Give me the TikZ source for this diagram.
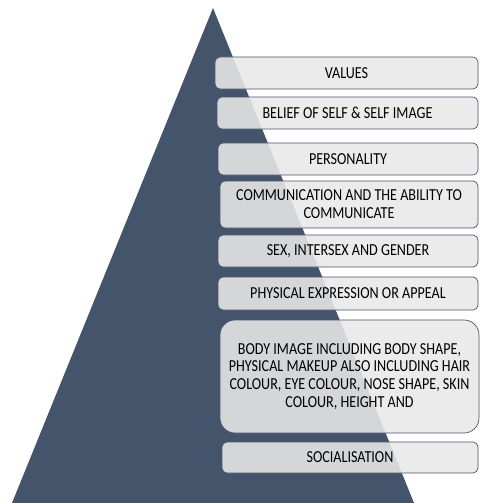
\documentclass[tikz,border=0pt]{standalone}
\usepackage{fontspec}
\setmainfont{Carlito}[FakeStretch=0.84]
\definecolor{slate}{RGB}{68,84,106}
\definecolor{boxgray}{RGB}{232,232,232}

\begin{document}
\begin{tikzpicture}
  [x=1pt, y=-1pt,
   layer box/.style={draw=slate, line width=0.7pt, fill=boxgray,
     fill opacity=0.88, text opacity=1, rounded corners=5pt,
     align=center, inner sep=0pt, font=\fontsize{16.8}{17.8}\selectfont,
     text=black},
  ]

  \useasboundingbox (0,0) rectangle (479,503);

  % pyramid
  \fill[slate] (213,8) -- (414,503) -- (12,503) -- cycle;

  % layers
  \node[layer box, minimum width=263pt, minimum height=32pt]
    (values) at (346.5,73) {VALUES};
  \node[layer box, minimum width=261pt, minimum height=32pt]
    (belief) at (347.5,113) {BELIEF OF SELF \& SELF IMAGE};
  \node[layer box, minimum width=260pt, minimum height=32pt]
    (personality) at (348,159) {PERSONALITY};
  \node[layer box, minimum width=258pt, minimum height=47pt]
    (communication) at (349,204.5) {COMMUNICATION AND THE ABILITY TO\\COMMUNICATE};
  \node[layer box, minimum width=260pt, minimum height=32pt]
    (gender) at (348,251) {SEX, INTERSEX AND GENDER};
  \node[layer box, minimum width=260pt, minimum height=33pt]
    (expression) at (348,293.5) {PHYSICAL EXPRESSION OR APPEAL};
  \node[layer box, rounded corners=15pt, minimum width=259pt, minimum height=113pt]
    (body) at (349.5,376.5) {BODY IMAGE INCLUDING BODY SHAPE,\\PHYSICAL MAKEUP ALSO INCLUDING HAIR\\COLOUR, EYE COLOUR, NOSE SHAPE, SKIN\\COLOUR, HEIGHT AND};
  \node[layer box, minimum width=256pt, minimum height=31pt]
    (socialisation) at (350,457.5) {SOCIALISATION};

\end{tikzpicture}
\end{document}
